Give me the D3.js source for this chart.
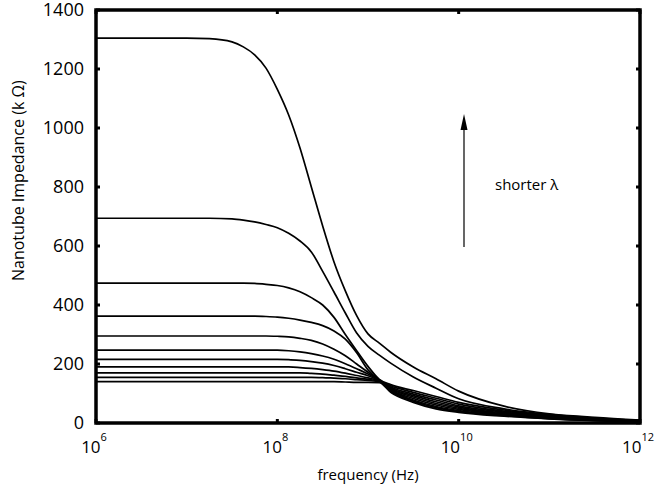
<!DOCTYPE html>
<html>
<head>
<meta charset="utf-8">
<script src="https://cdnjs.cloudflare.com/ajax/libs/d3/7.8.5/d3.min.js"></script>
<style>
  body { margin: 0; background: #fff; }
  svg text { font-family: "Open Sans", "DejaVu Sans", sans-serif; fill: #000; }
</style>
</head>
<body>
<div id="chart"></div>
<script>
// log10 of frequency (Hz) at which each curve was read
var logFreq = [6, 7, 7.25, 7.5, 7.625, 7.75, 7.875, 8, 8.125, 8.25, 8.375, 8.5, 8.625,
               8.75, 8.875, 9, 9.125, 9.25, 9.5, 9.75, 10, 10.5, 11, 11.5, 12];

// impedance in k-ohm, one array per curve (shortest wavelength first)
var curve1  = [1305, 1305, 1303, 1292, 1275, 1248, 1203, 1131, 1044, 932, 800, 668, 546,
               448, 364, 302, 271, 240, 190, 150, 108, 57, 31, 19, 10];
var curve2  = [694, 694, 694, 692, 688, 682, 673, 662, 643, 617, 580, 514, 444,
               373, 305, 260, 230, 203, 156, 118, 82, 48, 29, 17, 9];
var curve3  = [474, 474, 474, 474, 474, 473, 470, 466, 458, 445, 425, 400, 358,
               300, 245, 192, 148, 130, 110, 90, 70, 44, 27, 15, 8];
var curve4  = [362, 362, 362, 362, 362, 362, 361, 359, 355, 349, 341, 330, 312,
               284, 238, 180, 146, 126, 104, 84, 64, 40, 24, 14, 7];
var curve5  = [295, 295, 295, 295, 295, 295, 295, 294, 292, 287, 280, 268, 250,
               228, 200, 172, 145, 122, 98, 78, 58, 37, 22, 13, 6];
var curve6  = [247, 247, 247, 247, 247, 247, 247, 247, 245, 241, 235, 227, 216,
               201, 184, 166, 144, 119, 93, 72, 54, 34, 20, 12, 6];
var curve7  = [216, 216, 216, 216, 216, 216, 216, 216, 215, 212, 208, 203, 195,
               184, 172, 160, 143, 116, 88, 66, 50, 31, 18, 11, 5];
var curve8  = [190, 190, 190, 190, 190, 190, 190, 190, 190, 188, 185, 181, 176,
               169, 161, 153, 142, 113, 83, 61, 46, 29, 17, 10, 5];
var curve9  = [170, 170, 170, 170, 170, 170, 170, 170, 170, 170, 168, 166, 162,
               158, 153, 148, 141, 110, 78, 56, 42, 27, 16, 9, 4];
var curve10 = [155, 155, 155, 155, 155, 155, 155, 155, 155, 155, 155, 154, 152,
               150, 147, 144, 140, 107, 74, 52, 39, 25, 15, 9, 4];
var curve11 = [140, 140, 140, 140, 140, 140, 140, 140, 140, 140, 140, 140, 140,
               139, 138, 138, 137, 104, 70, 48, 36, 23, 14, 8, 4];

var curves = [curve1, curve2, curve3, curve4, curve5, curve6, curve7, curve8, curve9, curve10, curve11];

var yTicks = [0, 200, 400, 600, 800, 1000, 1200, 1400];
var xTickExps = [6, 8, 10, 12];

var width = 659,
    height = 494,
    margin = {top: 10, right: 19, bottom: 71, left: 96};

var svg = d3.select('#chart').append('svg')
    .attr('width', width)
    .attr('height', height);

var x = d3.scaleLog()
    .domain([1e6, 1e12])
    .range([margin.left, width - margin.right]);

var y = d3.scaleLinear()
    .domain([0, 1400])
    .range([height - margin.bottom, margin.top]);

var line = d3.line()
    .x(function(d) { return x(d[0]); })
    .y(function(d) { return y(d[1]); })
    .curve(d3.curveMonotoneX);

// curves
svg.append('g')
    .selectAll('path')
    .data(curves)
    .enter().append('path')
    .attr('d', function(vals) {
        return line(vals.map(function(v, i) { return [Math.pow(10, logFreq[i]), v]; }));
    })
    .attr('fill', 'none')
    .attr('stroke', '#000')
    .attr('stroke-width', 1.7);

// ticks, inward on all four sides
var tickLen = 4;
var tg = svg.append('g').attr('stroke', '#000').attr('stroke-width', 3);
yTicks.forEach(function(t) {
    tg.append('line').attr('x1', x(1e6)).attr('x2', x(1e6) + tickLen).attr('y1', y(t)).attr('y2', y(t));
    tg.append('line').attr('x1', x(1e12)).attr('x2', x(1e12) - tickLen).attr('y1', y(t)).attr('y2', y(t));
});
xTickExps.forEach(function(e) {
    var xp = x(Math.pow(10, e));
    tg.append('line').attr('x1', xp).attr('x2', xp).attr('y1', y(0)).attr('y2', y(0) - tickLen);
    tg.append('line').attr('x1', xp).attr('x2', xp).attr('y1', y(1400)).attr('y2', y(1400) + tickLen);
});

// frame
svg.append('rect')
    .attr('x', x(1e6))
    .attr('y', y(1400))
    .attr('width', x(1e12) - x(1e6))
    .attr('height', y(0) - y(1400))
    .attr('fill', 'none')
    .attr('stroke', '#000')
    .attr('stroke-width', 3.5);

// y tick labels
svg.append('g')
    .selectAll('text')
    .data(yTicks)
    .enter().append('text')
    .attr('x', x(1e6) - 12)
    .attr('y', function(d) { return y(d); })
    .attr('dy', '0.36em')
    .attr('text-anchor', 'end')
    .style('font-size', '18px')
    .text(function(d) { return d; });

// x tick labels: 10 with a superscript exponent
var xl = svg.append('g')
    .selectAll('text')
    .data(xTickExps)
    .enter().append('text')
    .attr('x', function(e) { return x(Math.pow(10, e)) - 2; })
    .attr('y', 453)
    .attr('text-anchor', 'middle')
    .style('font-size', '17px');
xl.append('tspan').text('10');
xl.append('tspan')
    .attr('dy', -12)
    .style('font-size', '11px')
    .text(function(e) { return e; });

// axis titles
svg.append('text')
    .attr('x', (x(1e6) + x(1e12)) / 2)
    .attr('y', 480)
    .attr('text-anchor', 'middle')
    .style('font-size', '15px')
    .text('frequency (Hz)');

svg.append('text')
    .attr('transform', 'translate(24,281) rotate(-90)')
    .attr('text-anchor', 'start')
    .style('font-size', '16px')
    .text('Nanotube Impedance (k \u03A9)');

// arrow annotation
svg.append('line')
    .attr('x1', 464).attr('x2', 464)
    .attr('y1', 247).attr('y2', 128)
    .attr('stroke', '#000')
    .attr('stroke-width', 1.2);
svg.append('path')
    .attr('d', 'M464,114 L460.5,130 L467.5,130 Z')
    .attr('fill', '#000');

svg.append('text')
    .attr('x', 495)
    .attr('y', 190)
    .style('font-size', '15px')
    .text('shorter  \u03BB');
</script>
</body>
</html>
